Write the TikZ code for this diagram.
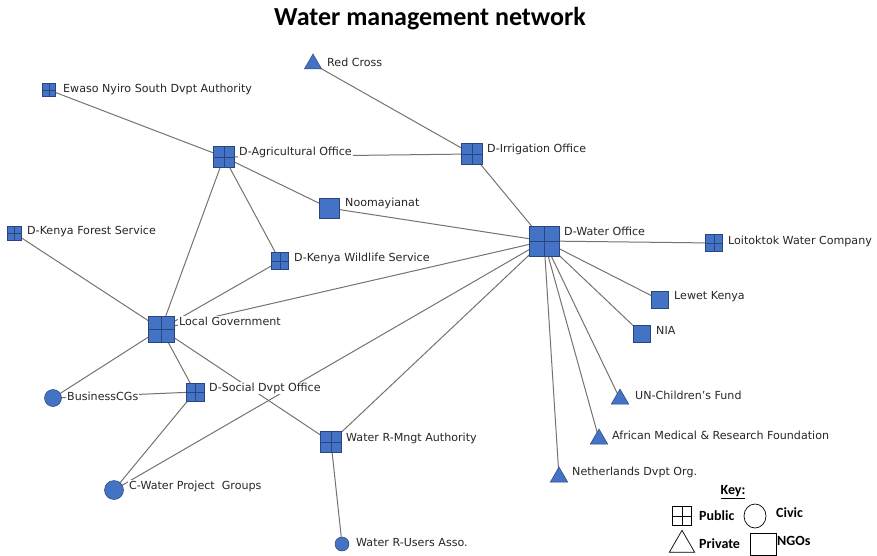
\documentclass[tikz,border=0pt]{standalone}
\usepackage{fontspec}
\setmainfont{DejaVu Sans}
\newfontfamily\titlefont{Carlito}
\usetikzlibrary{shapes.geometric}
\pgfdeclarelayer{bg}
\pgfsetlayers{bg,main}
\definecolor{nodeblue}{RGB}{68,114,196}
\definecolor{nodeedge}{RGB}{40,70,125}
\definecolor{linkgray}{RGB}{120,114,108}
\tikzset{
  pub/.style={rectangle, fill=nodeblue, draw=nodeedge, line width=0.5pt,
    minimum size=#1, inner sep=0pt,
    path picture={\draw[nodeedge, line width=0.6pt]
      (path picture bounding box.north) -- (path picture bounding box.south)
      (path picture bounding box.west) -- (path picture bounding box.east);}},
  ngo/.style={rectangle, fill=nodeblue, draw=nodeedge, line width=0.5pt,
    minimum size=#1, inner sep=0pt},
  civ/.style={circle, fill=nodeblue, draw=nodeedge, line width=0.5pt,
    minimum size=#1, inner sep=0pt},
  prv/.style={regular polygon, regular polygon sides=3, fill=nodeblue,
    draw=nodeedge, line width=0.5pt, minimum size=#1, inner sep=0pt},
  lbl/.style={anchor=west, fill=white, inner sep=1pt,
    font=\fontsize{11.1}{12}\selectfont, text=black!85},
  link/.style={draw=linkgray, line width=1pt},
  keytxt/.style={anchor=west, inner sep=0pt,
    font=\titlefont\bfseries\fontsize{14}{16}\selectfont},
}
\begin{document}
\begin{tikzpicture}[x=1pt,y=-1pt]
\useasboundingbox (0,0) rectangle (877,556);

% title
\node[font=\titlefont\bfseries\fontsize{26}{30}\selectfont] (title) at (430,19) {Water management network};

% actors
\node[prv=20] (redcross) at (313,64) {};
\node[pub=13] (ewaso) at (49,90) {};
\node[pub=21] (agri) at (224,157) {};
\node[pub=21] (irrig) at (472,154) {};
\node[ngo=20] (noom) at (329,208) {};
\node[pub=14] (forest) at (14,233) {};
\node[pub=17] (wild) at (280,261) {};
\node[pub=30] (water) at (544,241) {};
\node[pub=17] (loit) at (714,243) {};
\node[pub=26] (local) at (161,329) {};
\node[ngo=17] (lewet) at (660,300) {};
\node[ngo=17] (nia) at (642,334) {};
\node[civ=17] (business) at (53,398) {};
\node[pub=18] (social) at (195,392) {};
\node[pub=21] (wrma) at (331,442) {};
\node[prv=20] (unicef) at (620,399) {};
\node[prv=20] (amref) at (599,439) {};
\node[prv=20] (neth) at (559,477) {};
\node[civ=19] (cwater) at (114,490) {};
\node[civ=14] (wrua) at (342,544) {};

% links between actors
\begin{pgfonlayer}{bg}
\foreach \a/\b in {ewaso/agri, redcross/irrig, agri/irrig, agri/noom, agri/wild,
    agri/local, irrig/water, noom/water, forest/local, wild/local, local/water,
    local/business, local/social, local/wrma, social/business, social/cwater,
    cwater/water, wrma/water, wrma/wrua, water/loit, water/lewet, water/nia,
    water/unicef, water/amref, water/neth}
  \path[link] (\a.center) -- (\b.center);
\end{pgfonlayer}

% labels
\node[lbl] (redcrossL) at (326,62) {Red Cross};
\node[lbl] (ewasoL) at (62,89) {Ewaso Nyiro South Dvpt Authority};
\node[lbl] (agriL) at (238,152) {D-Agricultural Office};
\node[lbl] (irrigL) at (486,149) {D-Irrigation Office};
\node[lbl] (noomL) at (344,203) {Noomayianat};
\node[lbl] (forestL) at (26,231) {D-Kenya Forest Service};
\node[lbl] (wildL) at (293,258) {D-Kenya Wildlife Service};
\node[lbl] (waterL) at (563,231) {D-Water Office};
\node[lbl] (loitL) at (727,241) {Loitoktok Water Company};
\node[lbl] (localL) at (178,321) {Local Government};
\node[lbl] (lewetL) at (673,297) {Lewet Kenya};
\node[lbl] (niaL) at (655,330) {NIA};
\node[lbl] (businessL) at (66,396) {BusinessCGs};
\node[lbl] (socialL) at (208,388) {D-Social Dvpt Office};
\node[lbl] (wrmaL) at (345,438) {Water R-Mngt Authority};
\node[lbl] (unicefL) at (634,395) {UN-Children's Fund};
\node[lbl] (amrefL) at (611,435) {African Medical \& Research Foundation};
\node[lbl] (nethL) at (571,472) {Netherlands Dvpt Org.};
\node[lbl] (cwaterL) at (128,486) {C-Water Project\ \ Groups};
\node[lbl] (wruaL) at (355,543) {Water R-Users Asso.};

% key
\node[font=\titlefont\bfseries\fontsize{14}{16}\selectfont] (key) at (733,492) {\underline{Key:}};
\node[rectangle, draw=black, line width=0.7pt, minimum size=19pt, inner sep=0pt,
  path picture={\draw[line width=0.7pt]
    (path picture bounding box.north) -- (path picture bounding box.south)
    (path picture bounding box.west) -- (path picture bounding box.east);}]
  (keypub) at (682,516) {};
\node[keytxt] (keypubL) at (699,516) {Public};
\node[ellipse, draw=black, line width=0.7pt, minimum width=22pt, minimum height=24pt, inner sep=0pt] (keyciv) at (755,516) {};
\node[keytxt] (keycivL) at (776,513) {Civic};
\node[isosceles triangle, isosceles triangle apex angle=60, shape border rotate=90,
  draw=black, line width=0.7pt, minimum height=22pt, inner sep=0pt] (keyprv) at (682,545) {};
\node[keytxt] (keyprvL) at (699,544) {Private};
\node[rectangle, draw=black, line width=0.7pt, minimum width=26pt, minimum height=22pt, inner sep=0pt] (keyngo) at (763,544) {};
\node[keytxt] (keyngoL) at (777,541) {NGOs};
\end{tikzpicture}
\end{document}
